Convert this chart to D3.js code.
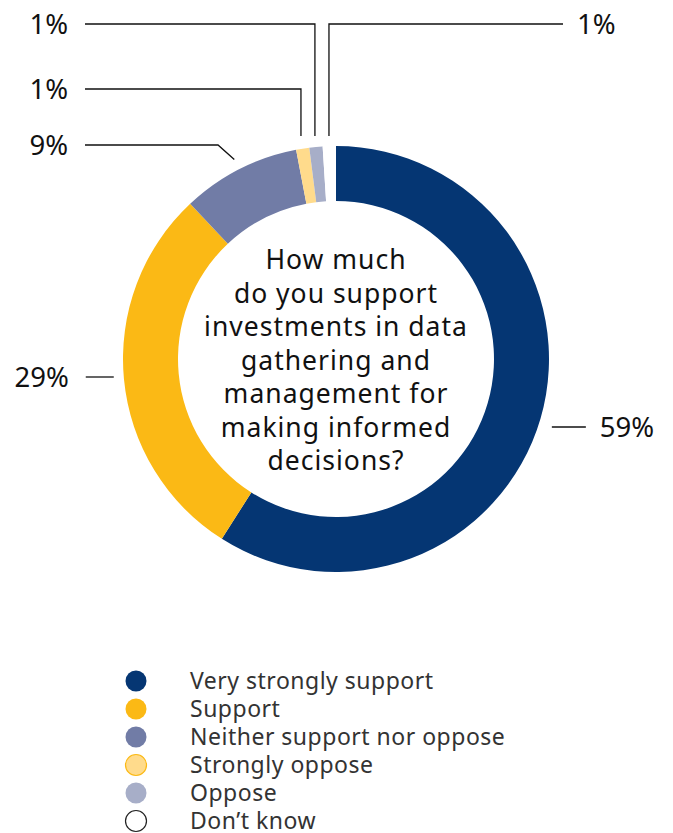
<!DOCTYPE html>
<html>
<head>
<meta charset="utf-8">
<script src="https://cdn.jsdelivr.net/npm/d3@7/dist/d3.min.js"></script>
<style>
  html, body { margin: 0; padding: 0; background: #fff; }
  svg { display: block; font-family: "Noto Sans", "Open Sans", sans-serif; }
</style>
</head>
<body>
<svg id="chart" width="673" height="833"></svg>
<script>
// Survey responses (share of respondents, %)
const categories = ["Very strongly support", "Support", "Neither support nor oppose",
                    "Strongly oppose", "Oppose", "Don\u2019t know"];
const values = [59, 29, 9, 1, 1, 1];
const labels = ["59%", "29%", "9%", "1%", "1%", "1%"];
const colors = ["#053673", "#FBB915", "#717CA6", "#FFDB8C", "#A7AEC8", "#FFFFFF"];
const legendStrokes = ["none", "none", "none", "#FBB915", "none", "#222"];
const question = ["How much", "do you support", "investments in data", "gathering and",
                  "management for", "making informed", "decisions?"];

const svg = d3.select("#chart");
const cx = 336, cy = 359, outerR = 213, innerR = 158, leadR = 224;

const data = categories.map((c, i) => ({ category: c, value: values[i], label: labels[i], color: colors[i], stroke: legendStrokes[i] }));

const pie = d3.pie().value(d => d.value).sort(null);
const arcs = pie(data);
const arc = d3.arc().innerRadius(innerR).outerRadius(outerR);

const g = svg.append("g").attr("transform", `translate(${cx},${cy})`);
g.selectAll("path.slice")
  .data(arcs)
  .join("path")
  .attr("class", "slice")
  .attr("d", arc)
  .attr("fill", d => d.data.color);

// Point on a circle of radius r at the slice's middle angle (relative to centre)
const midPoint = (d, r) => {
  const a = (d.startAngle + d.endAngle) / 2;
  return [r * Math.sin(a), -r * Math.cos(a)];
};

// Leader layout: label row y (absolute), side, and routing style
const leaderLayout = [
  { y: 427, side: "right", route: "side" },
  { y: 377, side: "left",  route: "side" },
  { y: 145, side: "left",  route: "elbow", elbowX: 218 },
  { y: 89,  side: "left",  route: "vertical" },
  { y: 24,  side: "left",  route: "vertical" },
  { y: 24,  side: "right", route: "vertical" }
];

const leaders = svg.append("g").attr("fill", "none").attr("stroke", "#111").attr("stroke-width", 1.3);
const texts = svg.append("g").attr("font-size", 27.5).attr("fill", "#111");

arcs.forEach((d, i) => {
  const L = leaderLayout[i];
  const [mx, my] = midPoint(d, leadR);
  const px = cx + mx, py = cy + my;
  let pts;
  if (L.route === "side") {
    const dy = L.y - cy;
    const ex = Math.sqrt(outerR * outerR - dy * dy);
    const x0 = L.side === "right" ? cx + ex + 14 : cx - ex - 10;
    const x1 = L.side === "right" ? x0 + 34 : x0 - 28;
    pts = [[x0, L.y], [x1, L.y]];
  } else if (L.route === "elbow") {
    pts = [[px, py], [L.elbowX, L.y], [85, L.y]];
  } else {
    const endX = L.side === "right" ? 563 : 85;
    pts = [[px, cy - outerR - 10], [px, L.y], [endX, L.y]];
  }
  leaders.append("path").attr("d", d3.line()(pts));
  const last = pts[pts.length - 1];
  const onRight = last[0] > cx;
  texts.append("text")
    .attr("x", onRight ? last[0] + 14 : last[0] - 17)
    .attr("y", L.y + 10)
    .attr("text-anchor", onRight ? "start" : "end")
    .text(d.data.label);
});

// Question in the donut hole
svg.append("text")
  .attr("text-anchor", "middle")
  .attr("font-size", 26.5)
  .attr("letter-spacing", 1)
  .attr("fill", "#111")
  .selectAll("tspan")
  .data(question)
  .join("tspan")
  .attr("x", cx)
  .attr("y", (d, i) => 269 + i * 33.5)
  .text(d => d);

// Legend
const legendY = d3.scalePoint().domain(categories).range([681, 821]);
const legend = svg.append("g");
const rows = legend.selectAll("g")
  .data(data)
  .join("g")
  .attr("transform", d => `translate(0,${legendY(d.category)})`);
rows.append("circle")
  .attr("cx", 136)
  .attr("r", 10.5)
  .attr("fill", d => d.color)
  .attr("stroke", d => d.stroke)
  .attr("stroke-width", 1.2);
rows.append("text")
  .attr("x", 190)
  .attr("y", 7.5)
  .attr("font-size", 23)
  .attr("letter-spacing", 0.5)
  .attr("fill", "#333")
  .text(d => d.category);
</script>
</body>
</html>
